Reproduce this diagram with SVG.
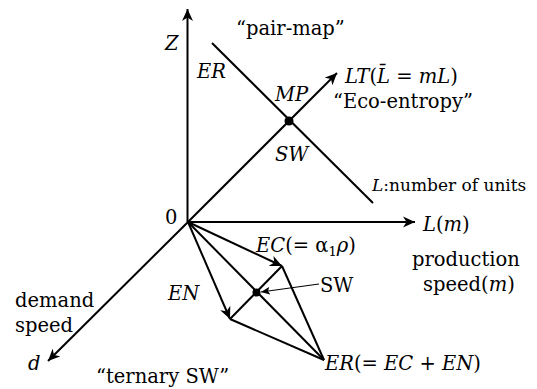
<svg xmlns="http://www.w3.org/2000/svg" width="537" height="389" viewBox="0 0 537 389">
<style>
text{font-family:"DejaVu Serif","Liberation Serif",serif;font-size:19.5px;fill:#000}
.i{font-style:italic}
.sm{font-size:17px}
.sub{font-size:13px}
.ln{stroke:#000;stroke-width:2;fill:none}
.thin{stroke:#000;stroke-width:1.2;fill:none}
</style>
<defs>
<marker id="ah" markerUnits="userSpaceOnUse" markerWidth="13" markerHeight="12" refX="12" refY="5.5" orient="auto" viewBox="0 0 13 11">
<path d="M0,0 L12,5.5 L0,11 L3.5,5.5 Z" fill="#000"/>
</marker>
<marker id="ahs" markerUnits="userSpaceOnUse" markerWidth="9" markerHeight="8" refX="9" refY="4" orient="auto" viewBox="0 0 9 8">
<path d="M0,0 L9,4 L0,8 L2,4 Z" fill="#000"/>
</marker>
</defs>
<g id="connectors">
<line class="ln" x1="187.5" y1="222" x2="187.5" y2="9" marker-end="url(#ah)"/>
<line class="ln" x1="187.5" y1="222" x2="415" y2="222" marker-end="url(#ah)"/>
<line class="ln" x1="188" y1="222" x2="48" y2="361" marker-end="url(#ah)"/>
<line class="ln" x1="188" y1="222" x2="337" y2="73" marker-end="url(#ah)"/>
<line class="ln" x1="212" y1="43" x2="373" y2="203"/>
<line class="ln" x1="188" y1="222" x2="282" y2="266" marker-end="url(#ah)"/>
<line class="ln" x1="188" y1="222" x2="230" y2="319" marker-end="url(#ah)"/>
<line class="ln" x1="188" y1="222" x2="324" y2="360"/>
<line class="ln" x1="282" y1="266" x2="324" y2="360"/>
<line class="ln" x1="230" y1="319" x2="324" y2="360"/>
<line class="ln" x1="282" y1="266" x2="230" y2="319"/>
<line class="thin" x1="319" y1="284" x2="261" y2="292" marker-end="url(#ahs)"/>
</g>
<g id="mp-point"><circle cx="289" cy="121" r="4.5" fill="#000"/></g>
<g id="sw-point"><circle cx="256.5" cy="292.5" r="4" fill="#000"/></g>
<g id="labels">
<text class="i" x="165" y="50">Z</text>
<text x="236" y="35">“pair-map”</text>
<text class="i" x="197" y="78">ER</text>
<text class="i" x="275" y="101">MP</text>
<text class="i" x="275" y="161">SW</text>
<text x="345" y="83"><tspan class="i">LT</tspan>(<tspan class="i">L̄</tspan> = <tspan class="i">mL</tspan>)</text>
<text x="333" y="108">“Eco-entropy”</text>
<text class="sm" x="372" y="191"><tspan class="i">L</tspan>:number of units</text>
<text x="165" y="224">0</text>
<text x="423" y="231"><tspan class="i">L</tspan>(<tspan class="i">m</tspan>)</text>
<text x="412" y="266">production</text>
<text x="423" y="291">speed(<tspan class="i">m</tspan>)</text>
<text x="256" y="252"><tspan class="i">EC</tspan>(= α<tspan class="sub" dy="4">1</tspan><tspan class="i" dy="-4">ρ</tspan>)</text>
<text x="320" y="292">SW</text>
<text class="i" x="168" y="300">EN</text>
<text x="15" y="307">demand</text>
<text x="15" y="332">speed</text>
<text class="i" x="28" y="370">d</text>
<text x="96" y="383">“ternary SW”</text>
<text x="325" y="370"><tspan class="i">ER</tspan>(= <tspan class="i">EC</tspan> + <tspan class="i">EN</tspan>)</text>
</g>
</svg>
